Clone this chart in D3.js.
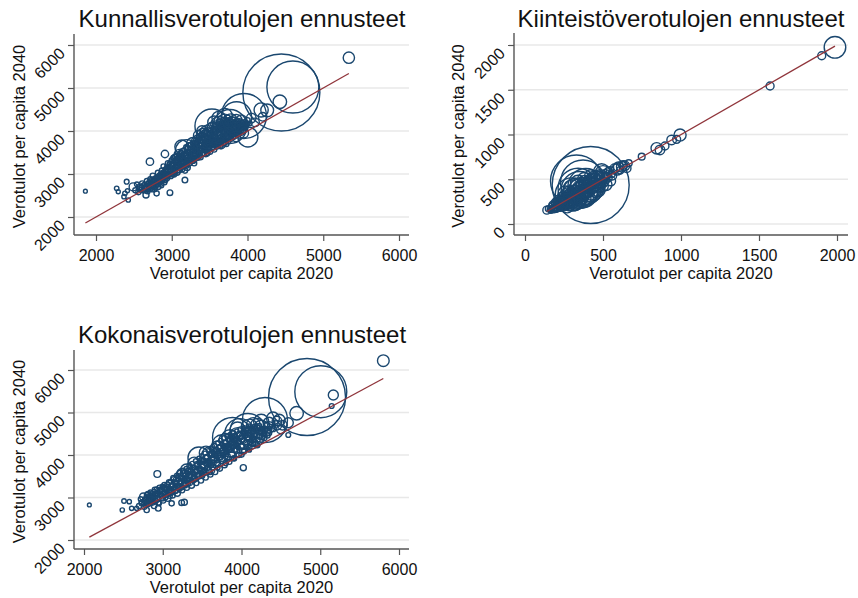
<!DOCTYPE html>
<html><head><meta charset="utf-8">
<script src="https://cdn.jsdelivr.net/npm/d3@7"></script>
<style>body{margin:0;background:#fff}svg{display:block}</style>
</head><body><svg id="c" width="858" height="598"></svg>
<script>
// ---------- DATA: [verotulot per capita 2020, verotulot per capita 2040, paino (asukkaat, tuhansia)] ----------
const titles = ["Kunnallisverotulojen ennusteet", "Kiinteistöverotulojen ennusteet", "Kokonaisverotulojen ennusteet"];
const xTitle = "Verotulot per capita 2020";
const yTitle = "Verotulot per capita 2040";
const ticks1 = [2000, 3000, 4000, 5000, 6000];
const ticks2 = [0, 500, 1000, 1500, 2000];
const ticks3 = [2000, 3000, 4000, 5000, 6000];

const kunnallisvero = [
[1860,2600,1.6],[2273,2667,2.2],[2294,2588,1.8],[2405,2821,2.5],[2369,2472,2],[2426,2395,2],[2382,2550,2.2],[2415,2610,1.8],
[2490,2700,7],[2520,2620,3],[2540,2760,2.5],[2560,2580,3],[2580,2700,4],[2600,2640,2.5],[2610,2780,3],[2660,2512,4],
[2640,2720,5],[2655,2650,3],[2670,2840,2.5],[2680,2600,3],[2690,2760,4],[2700,2690,3],[2712,3286,6],[2715,2880,2.5],
[2730,2740,5],[2745,2640,2.5],[2750,2960,3],[2760,2820,4],[2770,2700,3],[2800,2550,3],[2790,2900,3],[2800,2780,5],
[2815,3030,2.5],[2825,2700,2.5],[2835,2860,4],[2850,2960,3],[2860,2780,3],[2870,3080,3],[2880,2900,5],[2890,3180,2.5],
[2900,3000,4],[2910,3465,6],[2915,2860,3],[2925,3100,4],[2940,2960,3],[2950,3250,3],[2960,3040,5],[2976,2566,3.5],
[2980,3160,3],[2990,2950,2.5],[3000,3320,3],[3010,3080,6],[3020,3200,4],[3030,2990,3],[3040,3400,2.5],[3050,3140,5],
[3060,3280,3],[3070,3040,4],[3080,3360,3],[3090,3200,5],[3100,3090,3],[3110,3460,3],[3120,3300,6],[3130,3160,3],
[3140,3520,4],[3150,3380,3],[3160,3240,5],[3174,2860,3.5],[3175,3080,3],[3185,3450,4],[3195,3300,3],[3205,3150,4],
[3215,3600,3],[3225,3380,5],[3235,3250,3],[3245,3500,4],[3255,3680,3],[3265,3320,5],[3275,3430,3],[3285,3580,4],
[3295,3250,3],[3305,3720,3],[3315,3480,6],[3325,3380,3],[3335,3620,4],[3345,3800,3],[3355,3520,5],[3365,3420,3],
[3375,3700,8],[3385,3900,3],[3395,3580,4],[3405,3480,3],[3415,3780,6],[3425,3640,3],[3435,3950,4],[3445,3540,3],
[3455,3860,12],[3465,3700,4],[3475,4000,5],[3485,3600,3],[3495,3800,8],[3505,3520,3],[3515,3920,6],[3525,3700,4],
[3535,4080,10],[3545,3620,3],[3555,3850,7],[3565,3980,5],[3575,3700,4],[3585,4150,6],[3595,3640,3],[3605,3900,9],
[3615,4050,5],[3625,3760,4],[3635,4200,5],[3645,3680,3],[3655,3950,10],[3665,4100,6],[3675,3800,4],[3685,4250,4],
[3695,3720,3],[3705,4000,8],[3715,4150,5],[3725,3860,4],[3735,4300,4],[3745,3760,3],[3755,4050,7],[3765,4200,5],
[3775,3920,4],[3785,3820,3],[3795,4100,6],[3805,4250,4],[3815,3980,5],[3825,3880,3],[3835,4150,5],[3850,4050,4],
[3865,4200,5],[3880,3950,3],[3895,4120,4],[3910,4000,3],[3925,4180,4],[3945,4080,3],[3960,4200,3],[3980,4120,3],
[4000,4250,3],[4030,4180,2.5],[3130,3635,20],
[2580,2640,2],[2605,2690,3],[2625,2610,2],[2645,2760,2],[2665,2690,3],[2685,2720,2],[2695,2640,2],[2705,2800,3],
[2720,2650,2],[2735,2790,2],[2745,2710,3],[2755,2870,2],[2765,2760,2],[2775,2640,2],[2785,2830,3],[2795,2720,2],
[2805,2930,2],[2812,2850,3],[2822,2760,2],[2832,2950,2],[2842,2810,3],[2852,2880,2],[2858,3020,2],[2866,2730,2],
[2875,2960,3],[2884,2850,2],[2893,3050,2],[2902,2930,3],[2908,2800,2],[2918,3060,2],[2928,2990,3],[2936,3180,2],
[2944,2900,2],[2952,3100,3],[2962,2980,2],[2970,3250,2],[2978,3090,3],[2986,3010,2],[2995,3200,3],[3003,3120,2],
[3012,2980,2],[3018,3380,2],[3026,3250,3],[3034,3110,2],[3042,3300,3],[3048,3030,2],[3056,3200,2],[3064,3420,3],
[3072,3150,2],[3078,3300,3],[3086,3080,2],[3094,3380,2],[3102,3250,3],[3108,3150,2],[3116,3500,2],[3124,3230,3],
[3132,3380,2],[3138,3110,3],[3146,3450,2],[3154,3300,3],[3162,3560,2],[3168,3190,2],[3176,3420,3],[3184,3280,2],
[3192,3620,3],[3198,3380,2],[3206,3230,3],[3214,3500,2],[3222,3320,3],[3228,3680,2],[3236,3440,3],[3244,3300,2],
[3252,3580,3],[3258,3400,2],[3266,3520,3],[3274,3720,2],[3282,3360,3],[3288,3640,2],[3296,3480,3],[3304,3330,2],
[3312,3560,3],[3318,3800,2],[3326,3450,3],[3334,3700,2],[3342,3380,3],[3350,3620,2],[3356,3850,3],[3364,3500,2],
[3372,3760,3],[3380,3440,2],[3388,3680,3],[3394,3560,2],[3402,3900,3],[3410,3620,2],[3418,3480,3],[3426,3820,2],
[3432,3700,3],[3440,3560,2],[3448,3980,3],[3456,3650,2],[3464,3820,3],[3470,3540,2],[3478,3740,3],[3486,3920,2],
[3494,3620,3],[3502,3840,2],[3510,3700,3],[3516,4020,2],[3524,3780,3],[3532,3600,2],[3540,3900,3],[3548,3760,2],
[3554,4050,3],[3562,3680,2],[3570,3880,3],[3578,3780,2],[3586,4000,3],[3594,3720,2],[3602,4100,3],[3610,3820,2],
[3618,3950,3],[3626,3700,2],[3634,4060,3],[3642,3860,2],[3650,4150,3],[3658,3760,2],[3666,3980,3],[3674,3880,2],
[3682,4100,3],[3690,3800,2],[3698,4200,3],[3706,3920,2],[3714,4050,3],[3722,3780,2],[3730,4150,3],[3738,3960,2],
[3746,4250,3],[3754,3850,2],[3762,4100,3],[3770,3990,2],[3778,4220,3],[3786,3900,2],[3794,4020,3],[3802,4180,2],
[3810,3860,3],[3818,4080,2],[3826,4200,3],[3834,3960,2],[3842,4110,3],[3850,4000,2],[3858,4160,3],[3866,3920,2],
[3874,4070,3],[3882,4180,2],[3890,4000,3],[3900,4120,2],[3915,4060,3],[3930,4140,2],[3940,4010,3],[3955,4160,2],
[3970,4060,3],[3990,4180,2],[3720,3700,3],[3650,3640,2],[3560,3570,3],[3470,3480,2],[3380,3390,3],[3290,3300,2],
[3200,3200,3],[3110,3120,2],[3020,3040,3],[2950,2950,2],
[3050,3350,10],[3100,3450,12],[3150,3300,8],[3250,3600,15],[3300,3500,12],[3280,3700,18],[3400,3650,14],[3420,3900,22],
[3500,3750,16],[3480,3950,30],[3550,4000,35],[3580,3800,18],[3620,4150,28],[3680,3900,20],[3720,4080,22],[3780,4250,18],
[3820,4000,14],[3880,4150,16],[3700,4350,25],[3620,4300,20],[3560,4200,18],[3400,4000,12],[3350,3900,10],[3200,3450,10],
[3000,3200,8],[2950,3100,6],[2850,2950,6],[2750,2850,5],[3920,4250,12],[4050,4300,10],[4100,4200,8],[3950,3950,10],
[3850,3850,8],[3650,3700,10],[3450,3500,8],
[3600,3900,30],[3450,3850,25],[3350,3750,20],[3700,4200,30],[3650,4000,40],[3800,4150,25],[3900,4050,20],[3750,3950,15],[3850,4250,15],
[3197,3540,55],[3530,4116,126],[3768,4105,126],[3856,4333,98],[3953,4349,222],[4005,3860,44],
[4180,4490,22],[4260,4480,18],[4200,4330,8],[4427,4681,20],[4447,4895,650],[4599,5023,296],[5338,5705,14]
];

const kiinteistovero = [
[140,155,7],[160,165,3],[170,150,2.5],[180,190,3],[190,170,4],[200,215,3],[205,180,5],[215,240,3],
[220,200,4],[230,175,3],[235,255,5],[245,220,4],[250,280,3],[260,200,5],[265,250,6],[275,300,4],
[280,230,5],[290,270,8],[295,330,4],[300,210,4],[310,290,6],[315,350,5],[325,250,5],[330,320,8],
[340,380,5],[345,280,6],[355,340,10],[360,410,4],[370,300,6],[375,370,8],[385,430,5],[390,330,6],
[400,400,10],[410,460,5],[420,360,6],[430,430,8],[440,480,4],[450,400,6],[460,460,8],[475,500,5],
[485,440,5],[500,490,6],[520,540,5],[491,584,28],[534,584,8],[555,560,6],[598,640,10],[610,600,6],
[630,659,8],[652,622,8],[665,680,5],[748,752,5],[844,846,14],[865,827,10],[897,872,7],[940,939,10],
[972,946,7],[994,994,16],[1571,1542,7],[1902,1880,7],[1987,1974,51],
[150,170,4],[165,150,3],[175,200,5],[185,160,4],[195,230,6],[200,180,8],[210,200,10],[215,260,5],
[225,190,7],[230,240,12],[240,280,6],[245,200,9],[255,260,15],[260,310,7],[265,220,10],[275,270,20],
[280,330,8],[285,240,12],[295,300,18],[300,360,10],[305,250,9],[315,320,25],[320,380,12],[325,280,14],
[335,340,30],[340,420,10],[345,300,15],[355,370,35],[360,440,12],[365,320,18],[375,400,30],[380,460,12],
[385,350,20],[395,430,25],[400,480,10],[405,380,22],[415,450,20],[425,500,10],[430,410,18],[440,460,15],
[450,520,8],[455,430,12],[465,490,14],[475,540,7],[480,460,10],[495,520,12],[505,470,8],[515,560,8],
[530,520,9],[545,600,6],[560,540,8],[575,620,10],[590,610,14],[620,640,12],[640,650,10],
[200,160,3],[220,170,3],[240,230,3],[260,240,4],[280,260,3],[300,280,4],[320,300,3],[340,330,4],
[360,350,3],[380,370,4],[400,390,3],[420,420,4],[440,440,3],[460,450,4],[480,480,3],
[220,260,15],[260,340,25],[300,400,30],[340,460,25],[380,500,20],[420,540,15],[270,200,20],[320,240,25],
[370,290,30],[420,330,25],[470,380,20],[520,440,15],[240,300,12],[280,360,14],[330,430,16],[380,480,14],
[430,510,12],[480,540,10],[300,230,15],[350,270,18],[400,320,20],[450,360,14],[500,420,12],[550,480,10],
[180,210,8],[200,240,10],[190,180,6],
[250,240,30],[280,300,40],[310,280,60],[330,360,80],[300,330,120],[350,380,150],[370,350,100],[390,420,140],
[340,400,175],[330,480,296],[372,464,222],[421,436,650],[450,470,50],[480,500,40],[420,400,60],[270,260,25],
[230,220,20],[500,560,30]
];

const kokonaisvero = [
[2068,2824,1.6],[2508,2918,2.2],[2575,2902,2],[2486,2706,2],[2605,2745,2],[2669,2745,2],[2733,2863,3],
[2931,3553,5],[3274,2887,4],[4023,3702,4],
[2700,2800,3],[2720,2960,2.5],[2740,2880,4],[2753,3019,6],[2765,2780,3],[2780,2920,4],[2796,2706,3],[2800,3060,3],
[2815,2850,3],[2830,2980,5],[2845,3120,2.5],[2860,2900,3],[2875,3040,4],[2890,2800,3],[2900,3180,3],[2915,2960,5],
[2930,3100,3],[2943,2745,3.5],[2945,2880,3],[2960,3230,3],[2975,3020,6],[2990,3150,3],[3005,2930,3],[3020,3300,2.5],
[3035,3080,5],[3050,3200,3],[3065,2980,4],[3080,3360,3],[3095,3130,5],[3110,3260,3],[3113,2863,3],[3125,3050,3],
[3140,3430,3],[3155,3180,6],[3170,3320,3],[3185,3100,4],[3200,3500,3],[3215,3240,5],[3230,3380,3],[3240,2878,3.5],
[3245,3170,3],[3260,3560,4],[3275,3300,5],[3290,3450,3],[3305,3230,3],[3320,3620,3],[3335,3360,6],[3350,3520,3],
[3365,3290,4],[3380,3700,3],[3395,3440,5],[3410,3600,4],[3425,3340,3],[3440,3780,4],[3455,3520,6],[3470,3680,3],
[3485,3400,3],[3500,3860,5],[3515,3580,4],[3530,3760,8],[3545,3470,3],[3560,3940,4],[3575,3650,5],[3590,3840,6],
[3605,3540,3],[3620,4020,5],[3635,3720,4],[3650,3920,8],[3665,3600,3],[3680,4100,5],[3695,3800,4],[3710,4000,10],
[3725,3680,3],[3740,4180,5],[3755,3880,5],[3770,4080,8],[3785,3760,3],[3800,4260,5],[3815,3960,5],[3830,4160,7],
[3845,3840,3],[3860,4340,4],[3875,4040,6],[3890,4240,6],[3905,3920,3],[3920,4400,4],[3935,4120,5],[3950,4300,6],
[3965,4000,3],[3980,4460,4],[3995,4200,5],[4010,4380,5],[4030,4080,3],[4045,4520,4],[4060,4280,4],[4080,4440,5],
[4100,4180,3],[4120,4580,4],[4140,4360,4],[4160,4500,5],[4180,4260,3],[4200,4640,4],[4230,4440,4],[4260,4560,5],
[4290,4400,3],[4320,4700,4],[4350,4520,3],[4400,4620,4],
[2760,2860,2],[2772,2960,2],[2785,2830,3],[2790,3000,2],[2805,2900,2],[2812,3080,3],[2822,2940,2],[2835,2870,2],
[2840,3040,3],[2852,2960,2],[2865,3100,2],[2870,2880,3],[2882,3000,2],[2895,3140,2],[2905,2920,3],[2912,3060,2],
[2922,3200,2],[2935,2980,3],[2950,3100,2],[2955,2860,2],[2968,3180,3],[2982,3060,2],[2995,3260,2],[3000,2980,3],
[3012,3120,2],[3025,3220,3],[3040,3000,2],[3045,3150,2],[3058,3300,3],[3070,3080,2],[3075,3230,2],[3088,3040,3],
[3100,3380,2],[3105,3180,3],[3118,3300,2],[3130,3120,2],[3135,3460,3],[3148,3240,2],[3160,3360,3],[3165,3150,2],
[3178,3520,2],[3190,3280,3],[3195,3420,2],[3208,3180,2],[3220,3580,3],[3225,3340,2],[3238,3460,3],[3250,3240,2],
[3255,3620,2],[3268,3400,3],[3280,3520,2],[3285,3300,3],[3298,3680,2],[3310,3440,3],[3315,3560,2],[3328,3330,2],
[3340,3740,3],[3345,3500,2],[3358,3620,3],[3370,3400,2],[3375,3800,2],[3388,3560,3],[3400,3700,2],[3405,3460,3],
[3418,3860,2],[3430,3620,3],[3435,3760,2],[3448,3520,3],[3460,3920,2],[3465,3680,3],[3478,3820,2],[3490,3580,3],
[3495,3980,2],[3508,3740,3],[3520,3880,2],[3525,3640,3],[3538,4040,2],[3550,3800,3],[3555,3940,2],[3568,3700,3],
[3580,4100,2],[3585,3860,3],[3598,4000,2],[3610,3760,3],[3615,4160,2],[3628,3920,3],[3640,4060,2],[3645,3820,3],
[3658,4220,2],[3670,3980,3],[3675,4120,2],[3688,3880,3],[3700,4280,2],[3705,4040,3],[3718,4180,2],[3730,3940,3],
[3735,4340,2],[3748,4100,3],[3760,4240,2],[3765,4000,3],[3778,4400,2],[3790,4160,3],[3795,4300,2],[3808,4060,3],
[3820,4440,2],[3825,4220,3],[3838,4360,2],[3850,4120,3],[3855,4480,2],[3868,4280,3],[3880,4420,2],[3885,4180,3],
[3898,4520,2],[3910,4340,3],[3915,4460,2],[3928,4240,3],[3940,4560,2],[3945,4380,3],[3958,4180,2],[3970,4500,3],
[3975,4300,2],[3988,4600,3],[4000,4420,2],[4005,4220,3],[4018,4540,2],[4030,4340,3],[4035,4640,2],[4048,4460,3],
[4060,4200,2],[4065,4580,3],[4078,4380,2],[4090,4520,3],[4095,4680,2],[4108,4300,3],[4120,4460,2],[4125,4620,3],
[4138,4400,2],[4150,4560,3],[4155,4260,2],[4168,4660,3],[4180,4480,2],[4195,4580,3],[4210,4360,2],[4225,4680,3],
[4240,4520,2],[4255,4420,3],[4270,4620,2],[4285,4500,3],[4300,4580,2],[4330,4460,3],[4360,4620,2],
[3600,3600,2],[3500,3510,3],[3400,3410,2],[3300,3320,3],[3200,3220,2],[3100,3110,3],[3700,3700,2],[3800,3810,3],
[3900,3920,2],[4000,4010,3],[4100,4120,2],[4200,4230,3],
[3000,3150,8],[3100,3300,10],[3200,3400,12],[3250,3550,15],[3350,3500,10],[3400,3800,18],[3500,3700,14],[3550,4050,20],
[3650,3850,15],[3700,4150,25],[3750,4000,18],[3800,4350,20],[3900,4200,16],[3950,4450,30],[4050,4400,20],[4100,4500,25],
[4200,4550,18],[4250,4650,22],[4300,4550,12],[4350,4650,14],[4450,4700,10],[4500,4600,8],[3850,4000,12],[3600,3650,10],
[3450,3600,8],[2900,3050,6],[2850,2950,5],[4000,4150,10],[4150,4300,8],
[4400,4860,18],[4480,4820,15],[4520,4700,10],[4250,4780,25],[4150,4720,20],
[3460,3929,53],[3300,3650,15],[3600,4000,30],[3750,4250,40],[3850,4400,30],[3950,4600,25],[4100,4650,30],[4200,4700,20],
[4350,4750,15],[4450,4800,10],[3886,4412,175],[4083,4553,142],[3980,4500,100],[4298,4824,222],
[4594,4760,11],[4594,4471,2.5],[4700,4981,20],[4832,5365,650],[5007,5489,296],[5166,5412,11],[5145,5153,2.5],[5801,6219,15]
];

// ---------- LAYOUT ----------
const FONT = "'Liberation Sans', Arial, Helvetica, sans-serif";
const NAVY = "#1a476f", MAROON = "#90353b";
const svg = d3.select("#c");
const rScale = d3.scaleSqrt().domain([0, 650]).range([0, 38.5]);

const panels = [
  {data: kunnallisvero, title: titles[0], ticks: ticks1, dom: [2000, 6000],
   box: {l: 74, r: 409, t: 34, b: 235}, xr: [96, 399], yr: [217, 45], titleXY: [242, 27], yTitleX: 25},
  {data: kiinteistovero, title: titles[1], ticks: ticks2, dom: [0, 2000],
   box: {l: 514, r: 848, t: 33, b: 235}, xr: [525, 837], yr: [224, 45], titleXY: [681, 27], yTitleX: 464},
  {data: kokonaisvero, title: titles[2], ticks: ticks3, dom: [2000, 6000],
   box: {l: 74, r: 409, t: 350, b: 549}, xr: [84, 399], yr: [540, 370], titleXY: [242, 343], yTitleX: 25}
];

panels.forEach(p => {
  const g = svg.append("g");
  const x = d3.scaleLinear().domain(p.dom).range(p.xr);
  const y = d3.scaleLinear().domain(p.dom).range(p.yr);
  const b = p.box;

  // grid lines
  g.append("g").selectAll("line").data(p.ticks).join("line")
    .attr("x1", b.l).attr("x2", b.r).attr("y1", d => y(d)).attr("y2", d => y(d))
    .attr("stroke", "#e8e8e8").attr("stroke-width", 1.5);

  // markers
  g.append("g").selectAll("circle").data(p.data).join("circle")
    .attr("cx", d => x(d[0])).attr("cy", d => y(d[1])).attr("r", d => rScale(d[2]))
    .attr("fill", "none").attr("stroke", NAVY).attr("stroke-width", 1.4);

  // 45-degree line
  const ext = d3.extent(p.data, d => d[0]);
  g.append("line").attr("x1", x(ext[0])).attr("y1", y(ext[0])).attr("x2", x(ext[1])).attr("y2", y(ext[1]))
    .attr("stroke", MAROON).attr("stroke-width", 1.3);

  // axes
  const xAxis = d3.axisBottom(x).tickValues(p.ticks).tickSize(6).tickPadding(9).tickFormat(d3.format("d"));
  const xg = g.append("g").attr("transform", `translate(0,${b.b})`).call(xAxis);
  xg.select(".domain").remove();
  xg.append("line").attr("x1", b.l).attr("x2", b.r).attr("stroke", "#555").attr("stroke-width", 1.4);
  xg.selectAll(".tick line").attr("stroke", "#555").attr("stroke-width", 1.2);
  xg.selectAll(".tick text").attr("font-family", FONT).attr("font-size", 16).attr("fill", "#111");

  const yAxis = d3.axisLeft(y).tickValues(p.ticks).tickSize(6).tickFormat(d3.format("d"));
  const yg = g.append("g").attr("transform", `translate(${b.l},0)`).call(yAxis);
  yg.select(".domain").remove();
  yg.append("line").attr("y1", b.t).attr("y2", b.b).attr("stroke", "#555").attr("stroke-width", 1.4);
  yg.selectAll(".tick line").attr("stroke", "#555").attr("stroke-width", 1.2);
  yg.selectAll(".tick text")
    .attr("font-family", FONT).attr("font-size", 16).attr("fill", "#111")
    .attr("x", null).attr("dy", null).attr("text-anchor", "end")
    .attr("transform", "translate(-8,9) rotate(-45)");

  // titles
  g.append("text").attr("x", p.titleXY[0]).attr("y", p.titleXY[1]).attr("text-anchor", "middle")
    .attr("font-family", FONT).attr("font-size", 24).attr("fill", "#111").text(p.title);
  g.append("text").attr("x", (b.l + b.r) / 2).attr("y", b.b + 44).attr("text-anchor", "middle")
    .attr("font-family", FONT).attr("font-size", 16.5).attr("fill", "#111").text(xTitle);
  g.append("text").attr("transform", `translate(${p.yTitleX},${(b.t + b.b) / 2 + 2}) rotate(-90)`)
    .attr("text-anchor", "middle").attr("font-family", FONT).attr("font-size", 16.5).attr("fill", "#111").text(yTitle);
});
</script></body></html>
